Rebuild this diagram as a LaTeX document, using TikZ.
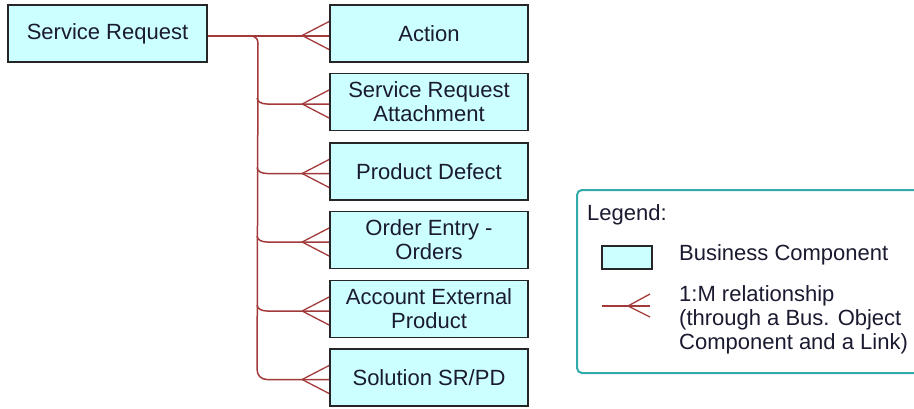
\documentclass[tikz,border=0pt]{standalone}
\usepackage{fontspec}
\setmainfont{Liberation Sans}
\definecolor{boxfill}{HTML}{CCFFFF}
\definecolor{relc}{HTML}{A33A3A}
\definecolor{legendc}{HTML}{33AAAA}
\definecolor{txt}{HTML}{1A1A30}
\begin{document}
\begin{tikzpicture}[x=1pt,y=-1pt,
  comp/.style={draw=black!85, line width=1.8pt, fill=boxfill, minimum width=198pt,
    minimum height=57pt, align=center, inner sep=0pt, text=txt,
    font=\fontsize{22}{24}\selectfont},
  lbl/.style={inner sep=0pt, text=txt, font=\fontsize{22}{24}\selectfont},
  rel/.style={draw=relc, line width=1.5pt},
  prong/.style={draw=relc, line width=1.3pt},
]
\useasboundingbox (0,0) rectangle (914,408);

% components
\node[comp, minimum width=199pt] (sr) at (107.5,33.5) {Service Request};
\node[comp] (a) at (429,33.5) {Action};
\node[comp] (b) at (429,102) {Service Request\\Attachment};
\node[comp] (c) at (429,171.5) {Product Defect};
\node[comp] (d) at (429,240) {Order Entry -\\Orders};
\node[comp] (e) at (429,309) {Account External\\Product};
\node[comp] (f) at (429,377.5) {Solution SR/PD};

% main line
\draw[rel] ([yshift=-2.5pt]sr.east) -- ([yshift=-2.5pt]a.west);

% trunk from main line down to last branch
\coordinate (j0) at (253,36);
\draw[rel] (j0) .. controls (256,37) and (258,39) .. (258,44)
  -- ([xshift=-72pt,yshift=8pt]f.west)
  .. controls +(0,6) and +(-6,0) .. ([xshift=-62pt,yshift=-2pt]f.west)
  -- ([yshift=-2pt]f.west);

% middle branches
\foreach \n in {b,c,d,e} {
  \draw[rel] ([xshift=-72pt,yshift=4pt]\n.west)
    .. controls +(0,4) and +(-5,0) .. ([xshift=-62pt,yshift=-2pt]\n.west)
    -- ([yshift=-2pt]\n.west);
}

% crow's feet
\foreach \n in {a,b,c,d,e,f} {
  \draw[prong] ([xshift=-27pt,yshift=-2pt]\n.west) -- ([yshift=12pt]\n.west);
  \draw[prong] ([xshift=-27pt,yshift=-2pt]\n.west) -- ([yshift=-16pt]\n.west);
}

% legend
\draw[legendc, line width=2pt, rounded corners=5pt] (577,190) rectangle (935,373);
\node[lbl, anchor=west] (lg) at (587,215) {Legend:};
\node[draw=black!85, line width=1.8pt, fill=boxfill, minimum width=50pt, minimum height=23pt, inner sep=0pt] (lbox) at (627,257.5) {};
\node[lbl, anchor=west] (lbc) at (679,255) {Business Component};
\coordinate (l1) at (602,306);
\coordinate (l2) at (650,306);
\coordinate (lf) at (628,306);
\draw[rel] (l1) -- (l2);
\draw[prong] (lf) -- (650,294);
\draw[prong] (lf) -- (650,317);
\node[lbl, anchor=north west, align=left] (lrel) at (679,285) {1:M relationship\\(through a Bus. Object\\Component and a Link)};
\end{tikzpicture}
\end{document}
